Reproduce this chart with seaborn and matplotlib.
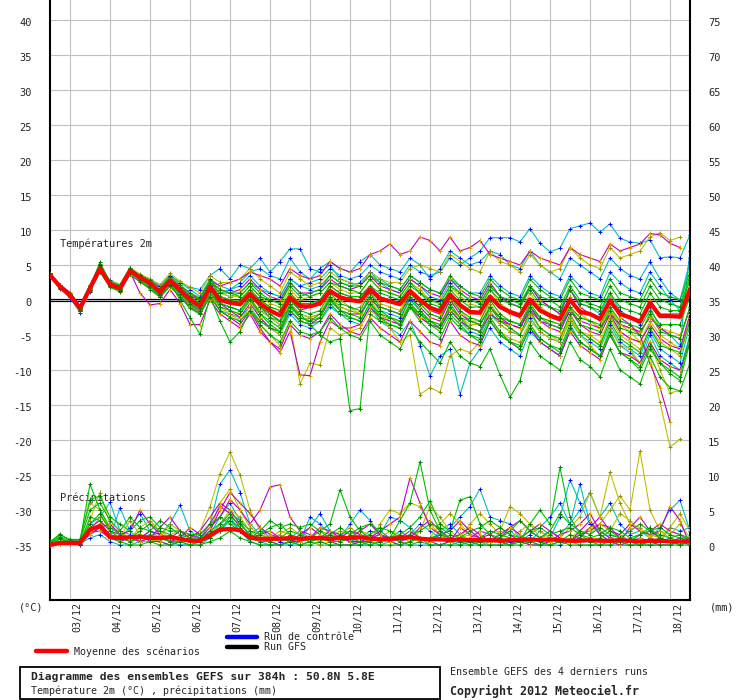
import numpy as np
import pandas as pd
import matplotlib
matplotlib.use("Agg")
import matplotlib.pyplot as plt
import matplotlib.transforms as mtransforms
from matplotlib.patches import Rectangle
from matplotlib.lines import Line2D
import seaborn as sns

# ----------------------------------------------------------
# Data: GEFS ensemble, 6-hourly steps, 02/12 12h -> 18/12 12h
# ----------------------------------------------------------
hours = np.arange(0, 385, 6)
day_hours = [12, 36, 60, 84, 108, 132, 156, 180, 204, 228, 252, 276, 300, 324, 348, 372]
day_labels = ["03/12", "04/12", "05/12", "06/12", "07/12", "08/12", "09/12", "10/12",
              "11/12", "12/12", "13/12", "14/12", "15/12", "16/12", "17/12", "18/12"]
nan = np.nan

# temperature 2m (°C) - ensemble mean
temp_mean = [3.6, 1.9, 0.7, -1.2, 1.7, 4.5, 2.2, 1.7, 4.2, 3.2, 2.4, 1.1, 2.8, 1.4, 0.1,
             -0.9, 1.9, 0.0, -0.4, -0.6, 0.9, -0.5, -1.5, -2.2, 0.4, -0.9, -0.9, -0.5, 1.3, 0.4,
             0.0, -0.2, 1.5, 0.2, -0.2, -0.6, 1.3, 0.0, -1.1, -1.6, 0.8, -0.7, -1.7, -1.8, 0.5,
             -1.0, -1.7, -2.2, 0.1, -1.5, -2.2, -2.7, 0.0, -1.7, -2.0, -2.7, -0.1, -2.0, -2.5, -3.1,
             -0.4, -2.3, -2.3, -2.4, 1.6]

# temperature members (cyan / yellow / magenta / green runs)
temp_c1 = [3.4, 1.6, 0.4, -1.8, 1.5, 4.2, 2.5, 2.0, 4.5, 3.6, 3.0, 2.0, 3.5, 2.5, 1.5,
           0.5, 3.0, 2.0, 1.5, 2.0, 3.5, 2.0, 1.0, 0.5, 3.0, 2.0, 2.5, 3.0, 4.5, 3.5,
           3.0, 3.5, 5.0, 4.0, 3.5, 3.0, 5.0, 4.0, 3.5, 4.0, 6.0, 5.0, 6.0, 7.0, 8.9,
           8.9, 8.9, 8.3, 10.2, 8.1, 6.9, 7.4, 10.2, 10.6, 11.0, 9.7, 10.9, 8.8, 8.3, 8.1,
           8.6, 6.0, 6.2, 6.0, 9.3]
temp_c2 = [3.8, 2.2, 0.8, -1.5, 1.2, 4.0, 2.0, 1.5, 4.0, 2.8, 2.0, 0.5, 2.0, 0.5, -1.0,
           -2.0, 0.5, -1.5, -2.0, -2.5, -1.0, -3.0, -4.0, -5.0, -2.0, -3.5, -4.0, -3.0, -1.0, -2.0,
           -3.0, -3.5, -1.0, -3.0, -4.0, -5.0, -3.0, -6.5, -10.9, -8.0, -7.0, -13.5, -9.0, -7.0, -4.0,
           -6.0, -7.0, -8.0, -4.5, -6.0, -7.0, -8.0, -4.0, -6.0, -7.0, -8.0, -4.0, -6.5, -7.5, -9.0,
           -5.0, -8.0, -9.0, -10.0, -5.0]
temp_c3 = [3.5, 2.0, 0.5, -1.0, 2.0, 4.8, 2.8, 2.2, 4.5, 3.5, 2.8, 2.0, 3.5, 2.5, 1.8,
           1.5, 3.5, 4.5, 3.0, 5.0, 4.5, 6.0, 4.0, 5.5, 7.3, 7.3, 4.5, 4.0, 5.0, 3.0,
           2.5, 2.0, 4.0, 2.5, 1.5, 1.0, 3.0, 2.0, 0.5, 0.0, 2.5, 1.0, 0.0, -0.5, 2.0,
           0.5, -0.5, -1.0, 2.0, 0.0, -1.0, -2.0, 1.5, -0.5, -1.0, -2.0, 1.0, -1.5, -2.5, -3.5,
           -1.0, -4.0, -5.0, -6.5, 7.0]
temp_c4 = [3.2, 1.7, 0.9, -0.8, 2.2, 5.0, 2.5, 1.9, 4.2, 3.0, 2.2, 1.0, 2.6, 1.5, 0.5,
           -0.5, 2.0, 1.0, 1.5, 2.5, 4.0, 4.5, 3.5, 3.0, 6.0, 4.0, 3.0, 4.5, 5.5, 4.5,
           4.0, 5.5, 6.5, 5.0, 4.5, 4.0, 6.0, 5.0, 3.0, 4.5, 7.0, 6.0, 5.0, 5.5, 7.0,
           6.5, 5.0, 4.5, 7.0, 5.0, 4.0, 3.0, 6.0, 5.0, 4.0, 3.0, 6.0, 4.5, 3.5, 3.0,
           5.5, 3.0, 1.0, 0.0, 5.5]
temp_c5 = [3.7, 1.8, 0.2, -1.6, 1.4, 4.3, 2.0, 1.3, 3.8, 3.0, 2.0, 0.8, 2.2, 0.8, -0.5,
           -1.5, 1.0, -0.5, -1.0, -1.5, 0.0, -1.5, -2.5, -3.5, -0.5, -2.0, -2.5, -2.0, 0.5, -1.0,
           -1.5, -2.0, 0.5, -1.5, -2.0, -2.5, 0.0, -1.5, -3.0, -4.0, -1.5, -3.0, -4.5, -5.0, -2.0,
           -3.5, -4.5, -5.0, -2.5, -4.5, -5.5, -6.0, -3.0, -5.0, -6.0, -7.0, -3.5, -6.0, -7.0, -8.0,
           -4.5, -7.0, -8.0, -9.0, -3.5]
temp_c6 = [3.5, 1.9, 0.8, -1.0, 1.9, 4.6, 2.4, 1.9, 4.3, 3.3, 2.5, 1.3, 2.9, 1.6, 0.4,
           -0.5, 2.0, 1.0, 0.5, 1.0, 2.5, 1.5, 1.0, 0.5, 3.0, 2.0, 1.5, 2.0, 3.5, 2.5,
           2.0, 2.5, 4.0, 3.0, 2.0, 1.5, 3.5, 2.5, 1.5, 1.0, 3.0, 2.0, 1.0, 1.0, 3.5,
           2.0, 1.0, 0.5, 3.5, 2.0, 1.0, 0.5, 3.5, 2.0, 1.0, 0.5, 4.0, 2.5, 1.5, 1.0,
           4.0, 2.0, 0.0, -1.5, 6.0]
temp_y1 = [3.5, 2.0, 0.8, -1.0, 1.8, 4.6, 2.3, 1.8, 4.0, 3.2, 2.3, 1.3, 2.5, 1.0, -0.5,
           -1.5, 1.0, -1.0, -2.0, -3.0, -1.0, -3.5, -5.0, -6.5, -3.0, -12.0, -9.0, -9.3, -4.0, -5.0,
           -4.5, -4.0, -1.5, -2.5, -2.5, -3.0, -0.5, -2.0, -3.0, -3.5, -1.0, -2.5, -3.5, -3.5, -1.0,
           -2.5, -3.0, -3.5, -1.0, -2.5, -3.0, -3.5, -1.0, -2.5, -3.0, -4.0, -1.5, -3.5, -4.0, -5.0,
           -2.0, -4.0, -4.5, -5.0, -1.5]
temp_y2 = [3.7, 2.0, 0.6, -1.3, 1.6, 4.4, 2.1, 1.6, 4.1, 3.3, 2.5, 1.2, 2.9, 1.6, 0.3,
           -0.5, 2.2, 0.5, 0.0, -0.2, 1.5, 0.0, -1.0, -1.5, 1.0, -0.5, -1.0, -0.5, 1.5, 0.0,
           -1.0, -2.0, 0.0, -2.5, -4.0, -6.0, -5.0, -13.5, -12.5, -13.2, -8.0, -7.0, -7.5, -6.0, -3.0,
           -4.5, -5.5, -6.0, -3.0, -4.5, -5.5, -6.0, -3.0, -4.5, -5.0, -6.0, -2.5, -4.5, -5.5, -6.0,
           -3.0, -5.0, -6.0, -7.0, -2.5]
temp_y3 = [3.4, 1.8, 0.6, -1.2, 1.9, 4.7, 2.4, 1.9, 4.4, 3.4, 2.6, 1.5, 3.2, 2.0, 0.8,
           0.0, 2.5, 1.0, 0.5, 0.5, 2.0, 0.5, -0.5, -1.0, 1.5, 0.0, 0.5, 1.0, 2.5, 1.5,
           1.0, 1.0, 3.0, 1.5, 1.0, 0.5, 2.5, 1.5, 0.0, -0.5, 2.0, 0.5, -0.5, -1.0, 1.5,
           -0.5, -1.5, -2.0, 1.0, -1.0, -2.0, -3.0, 0.5, -2.0, -3.0, -4.0, -1.0, -3.5, -4.5, -6.0,
           -8.0, -14.6, -21.0, -19.9, nan]
temp_y4 = [3.6, 2.1, 1.0, -0.9, 2.0, 4.9, 2.7, 2.2, 4.6, 3.7, 3.0, 2.2, 3.8, 2.7, 1.8,
           1.0, 3.5, 2.5, 2.5, 3.0, 4.5, 3.0, 2.0, 1.0, 4.0, 3.0, 2.0, 2.5, 4.0, 3.0,
           2.5, 2.0, 4.0, 3.0, 2.5, 2.5, 4.5, 5.0, 4.5, 4.0, 6.5, 5.5, 4.5, 4.0, 7.0,
           5.5, 5.0, 4.0, 6.5, 5.0, 4.0, 4.5, 7.5, 6.0, 5.0, 4.5, 7.5, 6.0, 6.5, 7.0,
           9.0, 9.6, 8.5, 9.0, nan]
temp_y5 = [3.5, 1.9, 0.7, -1.4, 1.5, 4.3, 2.0, 1.5, 3.9, 2.9, 2.0, 0.6, 2.3, 0.8, -0.8,
           -2.0, 0.8, -1.5, -2.5, -2.0, 0.0, -2.5, -4.0, -5.0, -1.5, -3.0, -2.5, -2.0, 0.5, -1.0,
           -1.5, -1.0, 1.0, -0.5, -1.0, -1.5, 1.0, -0.5, -2.0, -2.5, 0.0, -1.5, -3.0, -3.0, -0.5,
           -2.5, -4.0, -5.0, -2.0, -4.0, -5.0, -6.0, -2.5, -5.0, -6.5, -8.0, -4.0, -6.5, -7.0, -9.0,
           -6.0, -10.0, -13.3, -12.9, nan]
temp_y6 = [3.6, 2.0, 0.7, -1.2, 1.7, 4.5, 2.1, 1.6, 4.1, 3.1, 2.2, 0.9, 2.6, 1.1, -0.3,
           -1.5, 1.0, -1.0, -1.5, -2.0, 0.0, -1.5, -2.5, -3.5, -0.5, -2.0, -2.5, -2.0, 0.5, -1.0,
           -1.5, -2.0, 0.0, -2.0, -3.0, -3.5, -0.5, -2.5, -3.5, -4.0, -1.0, -3.0, -4.0, -4.5, -1.5,
           -3.5, -4.5, -5.0, -2.0, -4.0, -5.0, -5.5, -2.5, -4.5, -5.5, -6.5, -2.5, -5.0, -6.0, -7.0,
           -4.0, -6.0, -7.0, -8.0, -3.0]
temp_m1 = [3.6, 1.9, 0.5, -1.5, 1.4, 4.2, 2.0, 1.2, 3.6, 2.6, 1.6, 0.4, 2.0, 0.5, -1.0,
           -2.0, 0.5, -1.5, -2.5, -3.5, -1.5, -4.0, -6.0, -7.5, -4.5, -10.7, -10.8, -6.0, -3.0, -4.0,
           -4.0, -3.5, -1.0, -2.5, -3.0, -3.5, -1.0, -2.5, -3.5, -4.0, -1.5, -3.0, -4.0, -4.5, -2.0,
           -3.0, -3.5, -4.0, -1.5, -3.0, -3.5, -4.0, -1.5, -3.0, -3.5, -4.0, -2.0, -3.5, -4.0, -4.5,
           -2.5, -4.0, -5.0, -5.5, -1.0]
temp_m2 = [3.6, 2.0, 0.9, -1.0, 2.0, 4.8, 2.5, 2.0, 4.3, 3.5, 2.8, 1.8, 3.0, 2.0, 1.0,
           0.0, 2.5, 1.5, 1.0, 1.5, 3.0, 1.5, 0.5, 0.0, 2.5, 1.0, 1.0, 1.5, 3.0, 2.0,
           1.5, 2.0, 3.5, 2.0, 1.5, 1.0, 3.0, 2.0, 1.0, 0.5, 3.0, 1.5, 0.5, 0.0, 2.5,
           0.5, -0.5, -1.0, 2.0, 0.0, -1.0, -2.0, 1.5, -1.0, -2.0, -3.0, 0.5, -2.5, -3.5, -5.0,
           -9.1, -12.5, -17.4, nan, nan]
temp_m3 = [3.5, 1.8, 0.8, -1.1, 1.8, 4.6, 2.4, 1.8, 4.2, 3.3, 2.5, 1.4, 3.0, 1.8, 0.6,
           0.0, 2.8, 2.0, 2.5, 3.0, 4.0, 3.5, 3.0, 2.0, 4.5, 3.5, 3.0, 3.5, 5.5, 4.5,
           4.0, 4.5, 6.5, 7.0, 8.0, 6.5, 7.0, 9.0, 8.5, 7.0, 9.0, 7.0, 7.5, 8.5, 6.5,
           6.0, 5.5, 5.0, 7.0, 6.0, 5.5, 5.0, 7.5, 6.5, 6.0, 5.5, 8.0, 7.0, 7.5, 8.0,
           9.5, 9.3, 8.1, 7.5, nan]
temp_m4 = [3.7, 2.2, 1.1, -0.8, 2.1, 4.9, 2.6, 2.0, 4.0, 1.0, -0.7, -0.5, 1.5, -0.5, -3.5,
           -3.5, 0.0, -2.0, -3.0, -4.0, -2.0, -4.5, -6.0, -7.0, -3.5, -5.0, -5.5, -4.5, -2.0, -3.5,
           -4.5, -5.0, -2.5, -4.0, -5.0, -6.0, -3.0, -4.5, -6.0, -6.5, -3.0, -5.0, -6.0, -6.5, -3.0,
           -5.0, -6.0, -7.0, -4.0, -6.0, -7.0, -8.0, -4.5, -6.5, -7.5, -8.5, -5.0, -7.5, -8.0, -9.0,
           -6.0, -8.5, -9.5, -10.0, -6.0]
temp_m5 = [3.4, 1.7, 0.5, -1.3, 1.6, 4.4, 2.2, 1.5, 4.0, 3.0, 2.2, 1.0, 2.5, 1.0, -0.2,
           -1.0, 1.5, 0.5, 0.0, -0.5, 1.0, -1.0, -2.0, -3.0, 0.0, -1.5, -1.0, 0.0, 2.0, 1.0,
           0.5, 0.5, 2.0, 0.5, 0.0, -0.5, 1.5, 0.0, -1.5, -2.0, 0.5, -1.0, -2.0, -2.0, 0.5,
           -1.0, -2.0, -2.5, 0.0, -1.5, -2.5, -3.0, 0.0, -1.5, -2.0, -2.5, 0.0, -2.0, -2.5, -3.0,
           0.0, -2.0, -2.0, -2.0, 2.0]
temp_m6 = [3.5, 1.9, 0.6, -1.2, 1.6, 4.5, 2.2, 1.6, 4.0, 3.0, 2.3, 1.0, 2.5, 1.0, -0.5,
           -1.5, 1.0, -0.5, -1.5, -2.5, -0.5, -2.5, -4.0, -4.5, -1.5, -3.0, -3.5, -2.5, 0.0, -1.5,
           -2.0, -2.0, 0.0, -1.0, -1.5, -2.0, 0.5, -1.0, -2.5, -3.0, 0.0, -2.0, -3.0, -3.5, -1.0,
           -2.5, -3.5, -4.0, -1.0, -3.0, -4.0, -4.5, -1.5, -3.5, -4.5, -5.0, -2.0, -4.5, -5.5, -6.0,
           -3.5, -5.5, -6.5, -7.0, -2.0]
temp_g1 = [3.6, 1.9, 0.7, -1.2, 1.7, 4.5, 2.2, 1.7, 4.2, 3.2, 2.4, 1.1, 2.8, 1.4, 0.1,
           -0.9, 1.9, 0.0, -0.4, -0.6, 0.9, -1.0, -2.5, -3.0, -1.0, -2.0, -3.5, -5.0, -6.0, -5.5,
           -15.8, -15.5, -2.0, -3.0, -3.5, -4.0, -1.0, -2.0, -3.0, -3.5, -1.0, -2.5, -3.0, -3.5, -1.0,
           -2.5, -3.0, -3.5, -1.0, -2.5, -3.0, -3.5, -1.0, -2.5, -3.0, -3.5, -1.0, -3.0, -3.5, -4.0,
           -1.5, -3.5, -3.5, -3.5, 0.5]
temp_g2 = [3.8, 2.1, 0.9, -1.0, 1.9, 5.4, 2.5, 1.5, 4.4, 2.8, 1.5, 0.5, 2.5, 0.0, -2.5,
           -4.9, 0.5, -3.0, -6.0, -4.5, -1.5, -3.0, -4.0, -4.5, -1.5, -3.0, -3.5, -3.0, -0.5, -2.0,
           -2.5, -3.0, -0.5, -2.0, -2.5, -3.5, -0.5, -2.0, -3.5, -4.5, -2.0, -3.5, -5.0, -5.5, -2.5,
           -4.5, -6.0, -7.0, -4.0, -5.5, -6.5, -7.0, -3.5, -6.0, -7.0, -8.0, -4.5, -7.5, -8.5, -10.0,
           -7.0, -9.0, -10.5, -11.5, -6.0]
temp_g3 = [3.5, 2.0, 0.8, -1.1, 1.8, 5.2, 2.6, 2.1, 4.6, 3.5, 2.8, 1.7, 3.3, 2.2, 1.0,
           0.3, 2.8, 1.5, 1.0, 1.0, 2.5, 1.0, 0.0, -0.5, 2.0, 0.5, 1.0, 1.5, 3.5, 2.5,
           2.0, 2.0, 3.5, 2.5, 2.0, 1.5, 3.5, 2.5, 1.5, 1.0, 3.5, 2.0, 1.0, 0.5, 3.0,
           1.5, 0.5, 0.0, 3.0, 1.5, 0.5, 0.0, 3.0, 1.0, 0.5, 0.0, 3.0, 1.0, 0.5, 0.0,
           3.0, 1.0, 0.5, 0.0, 4.0]
temp_g4 = [3.7, 1.8, 0.6, -1.4, 1.6, 4.3, 2.0, 1.6, 4.0, 3.0, 2.2, 0.8, 2.6, 1.2, -0.3,
           -1.5, 1.5, -0.5, -1.0, -1.5, 0.5, -2.0, -3.5, -4.5, -0.5, -2.5, -3.0, -2.5, 0.5, -1.5,
           -2.0, -2.5, 0.5, -1.5, -2.5, -3.0, 0.5, -1.5, -3.0, -4.0, -0.5, -2.5, -4.0, -4.5, -1.0,
           -3.0, -4.0, -5.0, -1.5, -4.0, -5.0, -5.5, -2.0, -4.5, -5.5, -6.5, -3.0, -5.5, -6.5, -7.5,
           -4.0, -6.5, -7.0, -7.5, -3.0]
temp_g5 = [3.6, 2.0, 0.9, -0.9, 2.0, 4.6, 2.4, 2.0, 4.3, 3.4, 2.6, 1.4, 3.0, 1.7, 0.5,
           -0.5, 2.2, 0.5, 0.0, 0.0, 1.5, 0.0, -1.0, -1.5, 1.0, -0.5, -0.5, 0.0, 2.0, 1.0,
           0.5, 0.5, 2.0, 1.0, 0.5, 0.0, 2.0, 1.0, -0.5, -1.0, 1.5, 0.0, -1.0, -1.0, 1.5,
           0.0, -0.5, -1.0, 1.5, -0.5, -1.0, -1.5, 1.5, -0.5, -1.0, -1.5, 1.0, -1.0, -1.5, -2.0,
           1.0, -1.0, -1.5, -1.5, 3.0]
temp_g6 = [3.4, 1.7, 0.4, -1.5, 1.3, 4.0, 1.8, 1.2, 3.7, 2.6, 1.8, 0.4, 2.0, 0.5, -1.2,
           -2.0, 0.5, -1.5, -2.5, -3.0, -1.5, -3.5, -5.0, -6.0, -3.0, -4.5, -5.0, -4.5, -2.5, -4.0,
           -5.0, -5.5, -3.0, -5.0, -6.0, -7.0, -4.0, -6.0, -7.5, -9.0, -6.0, -8.0, -9.0, -9.5, -7.0,
           -10.7, -13.9, -11.5, -6.0, -8.0, -9.0, -10.0, -6.0, -8.5, -9.5, -11.0, -7.0, -10.0, -11.0, -12.0,
           -8.0, -11.0, -12.5, -13.0, -9.0]
temp_g7 = [3.5, 2.0, 0.6, -1.3, 1.8, 4.8, 2.3, 1.8, 4.3, 3.1, 2.3, 1.0, 2.7, 1.2, -0.2,
           -1.2, 1.6, -0.5, -1.0, -1.5, 0.5, -1.0, -2.0, -3.0, 0.0, -1.5, -2.0, -1.5, 1.0, -0.5,
           -1.0, -1.5, 1.0, -1.0, -1.5, -2.0, 1.0, -0.5, -2.0, -2.5, 0.5, -1.5, -2.5, -3.0, 0.0,
           -2.0, -3.0, -3.5, -0.5, -2.5, -3.5, -4.0, -1.0, -3.5, -4.0, -4.5, -1.5, -4.0, -4.5, -5.0,
           -2.0, -4.5, -5.0, -5.5, -1.0]
temp_g8 = [3.7, 2.0, 0.8, -1.1, 1.9, 4.6, 2.3, 1.9, 4.5, 3.4, 2.6, 1.4, 3.0, 1.8, 0.6,
           0.0, 2.5, 1.0, 1.0, 0.5, 2.0, 0.5, 0.0, -0.5, 2.5, 1.0, 0.5, 1.0, 2.5, 2.0,
           1.5, 1.0, 3.0, 1.5, 1.0, 0.5, 2.5, 1.0, 0.0, -0.5, 2.0, 1.0, 0.0, -0.5, 2.0,
           0.5, 0.0, -0.5, 2.0, 0.5, 0.0, -1.0, 2.0, 0.0, -0.5, -1.0, 2.0, 0.0, -0.5, -1.0,
           2.0, 0.0, -0.5, -1.0, 3.5]
temp_g9 = [3.6, 1.8, 0.5, -1.4, 1.5, 4.4, 2.0, 1.4, 3.9, 2.9, 2.0, 0.7, 2.4, 0.9, -0.6,
           -1.8, 1.2, -1.0, -1.5, -2.0, 0.0, -2.0, -3.0, -4.0, -1.0, -2.5, -3.0, -2.0, 0.0, -1.5,
           -2.5, -3.0, -0.5, -2.5, -3.5, -4.0, -1.0, -3.0, -4.5, -5.5, -2.5, -4.0, -5.0, -6.0, -3.0,
           -5.0, -6.0, -6.5, -3.5, -5.5, -6.5, -7.5, -4.0, -6.0, -7.0, -8.0, -5.0, -7.5, -8.5, -9.5,
           -6.5, -9.0, -10.0, -11.0, -5.0]

# precipitation (mm) - ensemble mean
prec_mean = [0.0, 0.3, 0.3, 0.3, 2.2, 2.7, 1.1, 1.0, 1.1, 1.2, 1.0, 1.0, 1.1, 0.9, 0.6,
             0.6, 1.4, 2.2, 2.3, 2.1, 1.0, 0.9, 0.9, 0.9, 1.0, 0.9, 1.0, 1.0, 0.9, 1.0,
             1.0, 1.1, 0.9, 0.8, 0.9, 1.0, 1.1, 0.9, 0.8, 0.8, 0.7, 0.8, 0.7, 0.7, 0.7,
             0.6, 0.7, 0.7, 0.8, 0.7, 0.8, 0.7, 0.6, 0.6, 0.7, 0.6, 0.6, 0.7, 0.6, 0.5,
             0.6, 0.6, 0.5, 0.5, 0.5]

# precipitation members
prec_c1 = [0.3, 0.5, 0.5, 0.5, 3.0, 4.0, 6.1, 2.0, 1.5, 1.0, 2.0, 1.5, 3.0, 5.7, 2.0,
           1.0, 3.0, 8.7, 10.7, 7.5, 3.0, 1.5, 1.0, 0.5, 1.0, 2.0, 1.0, 0.5, 1.5, 1.0,
           0.5, 1.0, 2.0, 1.5, 1.0, 0.5, 1.5, 3.0, 2.0, 1.0, 2.5, 4.0, 5.5, 8.0, 4.0,
           3.5, 3.0, 1.0, 0.5, 2.0, 1.0, 4.0, 9.3, 6.0, 3.0, 2.0, 1.0, 1.5, 0.5, 0.0,
           1.0, 2.5, 5.0, 6.4, 2.0]
prec_c2 = [0.2, 0.3, 0.2, 0.0, 1.5, 2.5, 1.0, 5.3, 2.0, 0.5, 0.5, 1.0, 0.5, 0.0, 0.0,
           0.5, 1.5, 4.0, 6.0, 3.5, 1.0, 0.5, 0.0, 0.0, 0.5, 1.0, 2.5, 4.5, 2.0, 1.0,
           0.5, 0.0, 0.0, 0.5, 1.0, 2.0, 1.0, 0.5, 0.0, 0.0, 0.0, 0.5, 1.0, 0.5, 0.0,
           0.0, 0.0, 0.5, 1.5, 2.5, 4.0, 6.0, 3.0, 8.7, 3.0, 1.5, 0.5, 0.0, 0.0, 0.0,
           0.0, 0.5, 1.0, 0.5, 0.0]
prec_c3 = [0.0, 0.2, 0.3, 0.5, 2.0, 3.0, 1.5, 1.0, 2.5, 4.5, 2.0, 1.0, 0.5, 1.0, 1.5,
           0.5, 1.0, 2.0, 3.5, 2.0, 1.5, 2.5, 1.0, 0.5, 0.0, 0.5, 4.0, 3.0, 1.5, 1.0,
           3.0, 5.0, 3.5, 1.5, 4.0, 3.5, 2.5, 1.0, 0.5, 2.0, 3.0, 1.5, 0.5, 0.0, 0.5,
           1.0, 2.0, 1.0, 0.5, 0.0, 0.5, 1.5, 3.0, 5.0, 7.5, 4.0, 6.0, 3.0, 1.5, 2.0,
           1.0, 0.5, 2.5, 2.0, 2.5]
prec_c4 = [0.0, 0.1, 0.1, 0.2, 1.0, 1.5, 0.5, 0.0, 0.0, 0.5, 1.0, 0.5, 0.0, 0.0, 0.0,
           0.0, 1.0, 3.0, 4.0, 2.0, 0.5, 0.0, 0.0, 0.0, 0.0, 0.0, 0.5, 0.0, 0.0, 0.0,
           0.0, 0.0, 0.0, 0.0, 0.5, 0.0, 0.0, 0.0, 0.0, 0.0, 0.5, 0.0, 0.0, 0.0, 0.0,
           0.0, 0.5, 1.0, 0.0, 0.0, 0.0, 0.0, 0.5, 0.0, 0.0, 0.0, 0.0, 0.0, 0.0, 0.0,
           0.0, 0.0, 0.0, 0.0, 0.0]
prec_y1 = [0.3, 0.5, 0.5, 0.8, 6.0, 5.0, 2.0, 1.0, 3.5, 1.5, 1.0, 0.5, 1.5, 2.0, 1.0,
           2.0, 5.5, 10.2, 13.3, 10.0, 5.0, 2.0, 1.0, 1.5, 2.5, 1.5, 1.0, 0.5, 1.0, 2.0,
           1.5, 1.0, 0.5, 3.0, 5.0, 4.5, 6.0, 5.5, 3.0, 1.5, 0.5, 1.0, 1.5, 0.5, 0.0,
           2.0, 5.5, 4.5, 3.0, 1.0, 0.5, 1.0, 2.5, 4.0, 7.5, 4.0, 10.4, 6.0, 3.0, 2.5,
           1.0, 2.0, 1.0, 0.5, 0.0]
prec_y2 = [0.2, 0.3, 0.4, 0.5, 3.5, 7.5, 3.0, 1.5, 1.0, 0.5, 0.5, 1.0, 3.0, 2.0, 1.0,
           0.5, 1.5, 3.0, 5.0, 4.0, 2.0, 1.0, 0.5, 0.0, 0.5, 1.0, 0.5, 0.0, 0.5, 1.5,
           2.5, 1.5, 1.0, 0.5, 0.5, 1.0, 0.5, 2.0, 5.5, 4.0, 2.0, 1.0, 3.0, 4.5, 3.0,
           1.5, 1.0, 0.5, 0.5, 1.0, 1.5, 0.5, 1.0, 2.0, 1.5, 3.0, 5.0, 7.0, 5.0, 13.4,
           5.0, 2.0, 1.5, 3.0, 1.0]
prec_y3 = [0.1, 0.2, 0.1, 0.3, 2.0, 4.0, 2.5, 2.0, 1.0, 2.5, 3.5, 2.0, 1.0, 0.5, 0.5,
           1.0, 2.0, 6.0, 8.0, 5.0, 2.5, 1.5, 1.0, 2.0, 1.5, 0.5, 1.0, 2.0, 1.5, 0.5,
           1.0, 2.0, 1.5, 1.0, 2.0, 1.5, 1.0, 0.5, 1.0, 3.0, 4.5, 3.0, 1.5, 1.0, 0.5,
           0.5, 1.0, 2.0, 3.0, 2.0, 1.0, 0.5, 0.5, 1.5, 2.5, 3.0, 2.0, 4.5, 3.5, 2.0,
           1.5, 1.0, 2.5, 4.5, 2.0]
prec_m1 = [0.3, 0.4, 0.6, 0.8, 2.5, 3.5, 2.0, 1.5, 2.0, 5.0, 3.0, 1.5, 1.0, 2.0, 1.5,
           1.0, 2.5, 4.0, 6.5, 5.0, 3.0, 5.0, 8.3, 8.6, 4.0, 2.0, 1.5, 1.0, 0.5, 1.0,
           2.0, 1.5, 1.0, 2.0, 3.0, 4.0, 9.6, 6.0, 2.5, 1.5, 1.0, 0.5, 1.0, 2.0, 1.5,
           0.5, 0.0, 1.0, 2.0, 3.0, 2.0, 1.0, 0.5, 1.0, 2.5, 4.0, 2.0, 1.5, 3.0, 2.0,
           1.5, 2.0, 5.5, 3.5, 0.0]
prec_m2 = [0.2, 0.3, 0.3, 0.4, 1.5, 2.5, 3.0, 1.5, 1.0, 0.5, 1.0, 2.5, 4.0, 2.0, 1.0,
           0.5, 2.0, 5.0, 7.5, 6.0, 4.5, 2.5, 1.5, 1.0, 0.5, 0.5, 1.0, 2.5, 2.0, 1.0,
           0.5, 0.5, 1.0, 1.5, 1.0, 0.5, 1.0, 2.5, 3.5, 2.0, 1.0, 1.5, 2.5, 1.5, 0.5,
           1.0, 2.5, 3.5, 2.0, 1.0, 0.5, 1.5, 2.0, 3.0, 4.5, 2.0, 1.0, 0.5, 2.5, 4.0,
           2.0, 1.0, 0.5, 1.0, 0.5]
prec_m3 = [0.0, 0.1, 0.2, 0.3, 1.8, 2.0, 1.0, 0.5, 1.0, 1.5, 0.5, 0.5, 0.0, 0.5, 1.0,
           2.0, 4.0, 6.0, 5.0, 3.0, 1.5, 1.0, 0.5, 0.0, 0.5, 1.5, 2.5, 1.5, 0.5, 0.0,
           0.0, 0.5, 0.5, 1.0, 0.5, 0.0, 0.5, 1.0, 0.5, 0.0, 0.5, 2.5, 1.5, 1.0, 1.5,
           2.5, 1.5, 0.5, 0.0, 0.0, 0.5, 1.0, 0.5, 2.0, 3.5, 1.5, 0.5, 0.0, 0.5, 1.0,
           0.5, 0.0, 0.0, 0.5, 0.5]
prec_m4 = [0.1, 0.3, 0.4, 0.5, 2.0, 3.0, 1.5, 1.0, 0.5, 1.0, 2.0, 1.5, 0.5, 1.0, 2.5,
           1.5, 3.0, 5.5, 4.5, 2.5, 1.0, 1.5, 2.0, 1.0, 0.5, 1.0, 0.5, 1.0, 2.0, 1.5,
           1.0, 2.0, 3.0, 1.5, 0.5, 1.0, 2.0, 1.0, 0.5, 1.5, 2.0, 3.5, 2.0, 1.0, 0.5,
           1.5, 2.5, 1.5, 0.5, 1.0, 2.0, 1.0, 0.5, 1.5, 2.0, 3.0, 2.5, 1.0, 0.5, 1.5,
           2.0, 3.0, 2.0, 1.5, 0.5]
prec_g1 = [0.4, 1.6, 0.6, 0.5, 8.7, 5.0, 2.5, 1.5, 1.0, 2.0, 3.0, 2.0, 1.5, 1.0, 0.5,
           0.5, 1.0, 2.0, 4.0, 3.0, 1.5, 1.0, 0.5, 1.0, 2.0, 1.5, 1.0, 2.0, 3.0, 7.9,
           4.0, 2.0, 1.0, 0.5, 1.0, 3.5, 6.0, 11.9, 5.0, 2.0, 1.0, 0.5, 0.5, 1.0, 2.0,
           1.5, 1.0, 0.5, 3.0, 5.0, 3.0, 11.1, 4.0, 1.5, 0.5, 1.0, 2.0, 1.0, 0.5, 1.5,
           2.5, 1.0, 0.5, 0.0, 0.5]
prec_g2 = [0.3, 1.2, 0.5, 0.6, 5.0, 6.0, 3.5, 2.0, 4.0, 2.5, 2.0, 3.5, 2.5, 1.5, 1.0,
           1.0, 2.0, 3.0, 4.5, 3.5, 2.0, 1.5, 2.5, 3.0, 1.5, 1.0, 0.5, 1.0, 1.5, 2.5,
           1.5, 2.5, 3.0, 2.0, 1.0, 1.5, 2.5, 4.0, 6.3, 3.0, 2.0, 6.4, 6.9, 3.0, 1.5,
           1.0, 2.0, 3.5, 2.0, 1.0, 2.0, 4.5, 3.0, 2.0, 1.5, 2.5, 1.5, 1.0, 2.0, 3.0,
           2.0, 1.5, 1.0, 1.5, 1.0]
prec_g3 = [0.2, 1.0, 0.3, 0.2, 4.0, 3.5, 1.0, 0.5, 0.0, 0.0, 0.5, 0.0, 0.0, 0.5, 0.0,
           0.0, 0.5, 1.0, 2.0, 1.0, 0.5, 0.0, 0.0, 0.0, 0.5, 0.0, 0.0, 0.5, 0.0, 0.0,
           0.0, 0.0, 0.5, 0.0, 0.0, 0.0, 0.5, 1.0, 0.0, 0.0, 0.0, 0.0, 0.5, 0.0, 0.0,
           0.0, 0.0, 0.0, 0.5, 0.0, 0.0, 0.5, 0.0, 0.0, 0.0, 0.0, 0.0, 0.5, 0.0, 0.0,
           0.0, 0.0, 0.0, 0.5, 0.0]
prec_g4 = [0.5, 1.4, 0.8, 0.8, 6.5, 7.0, 4.0, 3.0, 2.0, 3.5, 4.0, 2.5, 2.0, 2.0, 1.5,
           1.5, 3.0, 4.0, 3.0, 2.0, 1.0, 2.0, 3.5, 2.5, 3.0, 2.5, 3.0, 2.0, 1.0, 1.5,
           2.0, 1.0, 1.5, 2.5, 2.0, 1.0, 1.5, 2.0, 3.0, 2.5, 1.5, 1.0, 2.0, 2.5, 3.5,
           2.5, 1.5, 1.0, 2.0, 2.5, 1.5, 2.0, 2.5, 1.5, 1.0, 1.5, 2.5, 2.0, 1.0, 1.5,
           2.0, 2.5, 1.5, 1.0, 1.0]
prec_g5 = [0.2, 0.8, 0.4, 0.4, 3.0, 4.5, 2.0, 1.0, 0.5, 1.0, 1.5, 1.0, 0.5, 0.5, 0.0,
           0.5, 1.0, 2.5, 3.5, 2.5, 1.0, 0.5, 0.5, 1.0, 0.5, 0.0, 0.5, 1.0, 0.5, 0.5,
           1.0, 0.5, 0.0, 0.5, 1.0, 0.5, 0.0, 0.5, 1.0, 1.5, 1.0, 0.5, 0.0, 0.5, 1.0,
           0.5, 0.0, 0.5, 1.0, 0.5, 0.0, 0.5, 1.5, 1.0, 0.5, 0.0, 0.5, 1.0, 0.5, 0.0,
           0.5, 1.0, 0.5, 0.0, 0.5]

temp_members = {"c1": temp_c1, "c2": temp_c2, "c3": temp_c3, "c4": temp_c4, "c5": temp_c5,
                "c6": temp_c6,
                "y1": temp_y1, "y2": temp_y2, "y3": temp_y3, "y4": temp_y4, "y5": temp_y5,
                "y6": temp_y6,
                "m1": temp_m1, "m2": temp_m2, "m3": temp_m3, "m4": temp_m4, "m5": temp_m5,
                "m6": temp_m6,
                "g1": temp_g1, "g2": temp_g2, "g3": temp_g3, "g4": temp_g4, "g5": temp_g5,
                "g6": temp_g6, "g7": temp_g7, "g8": temp_g8, "g9": temp_g9}
prec_members = {"c1": prec_c1, "c2": prec_c2, "c3": prec_c3, "c4": prec_c4,
                "y1": prec_y1, "y2": prec_y2, "y3": prec_y3,
                "m1": prec_m1, "m2": prec_m2, "m3": prec_m3, "m4": prec_m4,
                "g1": prec_g1, "g2": prec_g2, "g3": prec_g3, "g4": prec_g4, "g5": prec_g5}

LINE_COL = {"c": "#00c0c0", "y": "#c0c000", "m": "#c000c0", "g": "#00c000"}
MARK_COL = {"c": "#0000ff", "y": "#909000", "m": "#e0a000", "g": "#008000"}


def to_long(members, col):
    parts = []
    for name, vals in members.items():
        assert len(vals) == len(hours), (name, len(vals))
        parts.append(pd.DataFrame({"hour": hours, col: vals, "member": name}))
    return pd.concat(parts, ignore_index=True)


temp_df = to_long(temp_members, "temp")
prec_df = to_long(prec_members, "mm")

# ----------------------------------------------------------
# Figure
# ----------------------------------------------------------
sns.set_style("white")
plt.rcParams["font.family"] = ["DejaVu Sans Mono"]
plt.rcParams["font.size"] = 7.2

W, H = 740, 700
fig = plt.figure(figsize=(W / 100, H / 100), dpi=100)
ax = fig.add_axes([50 / W, 100 / H, 640 / W, 600 / H])
ax.set_xlim(0, 384)
ax.set_ylim(-300 / 7, 300 / 7)

# grid
ax.set_xticks(day_hours)
ax.set_yticks(range(-35, 45, 5))
ax.grid(True, color="#c0c0c0", lw=0.8)
ax.set_axisbelow(True)
ax.tick_params(length=0, labelbottom=False, labelleft=False)
for s in ["left", "right", "bottom"]:
    ax.spines[s].set_linewidth(1.5)
    ax.spines[s].set_color("black")
ax.spines["top"].set_visible(False)

# freezing line
ax.axhline(0, color="black", lw=2.3, zorder=1.2)
ax.axhline(0, color="#d0d0d0", lw=0.6, zorder=1.3)

hue_t = list(temp_members)
sns.lineplot(data=temp_df, x="hour", y="temp", hue="member", hue_order=hue_t,
             palette={k: LINE_COL[k[0]] for k in hue_t}, estimator=None, sort=False,
             lw=0.8, legend=False, ax=ax, zorder=2)
sns.scatterplot(data=temp_df, x="hour", y="temp", hue="member", hue_order=hue_t,
                palette={k: MARK_COL[k[0]] for k in hue_t}, marker="+", s=9,
                linewidth=0.7, legend=False, ax=ax, zorder=3)
sns.lineplot(x=hours, y=temp_mean, color="#ff0000", lw=3, ax=ax, zorder=6)

# precipitation on the right scale (0 mm at -35 °C)
ax2 = ax.twinx()
ax2.set_ylim(-300 / 7 + 35, 300 / 7 + 35)
hue_p = list(prec_members)
sns.lineplot(data=prec_df, x="hour", y="mm", hue="member", hue_order=hue_p,
             palette={k: LINE_COL[k[0]] for k in hue_p}, estimator=None, sort=False,
             lw=0.8, legend=False, ax=ax2, zorder=2)
sns.scatterplot(data=prec_df, x="hour", y="mm", hue="member", hue_order=hue_p,
                palette={k: MARK_COL[k[0]] for k in hue_p}, marker="+", s=9,
                linewidth=0.7, legend=False, ax=ax2, zorder=3)
sns.lineplot(x=hours, y=prec_mean, color="#ff0000", lw=3, ax=ax2, zorder=6)
ax2.set_yticks([])
ax2.set_xlim(0, 384)
for s in ax2.spines.values():
    s.set_visible(False)
for a in (ax, ax2):
    a.set_xlabel("")
    a.set_ylabel("")

# axis labels drawn by hand (labels sit a little below their grid line)
down = mtransforms.ScaledTranslation(0, -3 / 100, fig.dpi_scale_trans)
for v in range(-35, 45, 5):
    ax.text(-18 / 640, v, str(v), transform=ax.get_yaxis_transform() + down,
            ha="right", va="center", fontsize=7.5)
for v in range(0, 80, 5):
    ax2.text(1 + 18 / 640, v, str(v), transform=ax2.get_yaxis_transform() + down,
             ha="left", va="center", fontsize=7.5)
for h, lab in zip(day_hours, day_labels):
    ax.text(h + 4.5, -2 / 600, lab, transform=ax.get_xaxis_transform(),
            rotation=90, ha="center", va="top", fontsize=7.2)

ax.text(6, 8.1, "Températures 2m", ha="left", va="center", fontsize=7.4, zorder=7)
ax.text(6, -28.3, "Précipitations", ha="left", va="center", fontsize=7.4, zorder=7)


def fx(x):
    return x / W


def fy(y):
    return 1 - y / H


fig.text(fx(31), fy(607), "(°C)", ha="center", va="center", fontsize=7.4)
fig.text(fx(722), fy(607), "(mm)", ha="center", va="center", fontsize=7.4)

# legend
fig.add_artist(Line2D([fx(36), fx(67)], [fy(651), fy(651)], color="#ff0000", lw=3.2))
fig.add_artist(Line2D([fx(227), fx(257)], [fy(637), fy(637)], color="#0000ff", lw=3.2))
fig.add_artist(Line2D([fx(227), fx(257)], [fy(647), fy(647)], color="black", lw=3.2))
fig.text(fx(74), fy(652), "Moyenne des scénarios", va="center", fontsize=7.2)
fig.text(fx(264), fy(637), "Run de contrôle", va="center", fontsize=7.2)
fig.text(fx(264), fy(647), "Run GFS", va="center", fontsize=7.2)

# title box
fig.add_artist(Rectangle((fx(20), fy(699)), (440 - 20) / W, (699 - 667) / H,
                         transform=fig.transFigure, fill=False, ec="black", lw=1.3))
fig.text(fx(31), fy(677), "Diagramme des ensembles GEFS sur 384h : 50.8N 5.8E",
         va="center", fontsize=8.2, fontweight="bold")
fig.text(fx(31), fy(691), "Température 2m (°C) , précipitations (mm)",
         va="center", fontsize=7.2)
fig.text(fx(450), fy(672), "Ensemble GEFS des 4 derniers runs", va="center", fontsize=7.2)
fig.text(fx(450), fy(691), "Copyright 2012 Meteociel.fr", va="center",
         fontsize=8.4, fontweight="bold")

fig.savefig("out.png", dpi=100, facecolor="white")
